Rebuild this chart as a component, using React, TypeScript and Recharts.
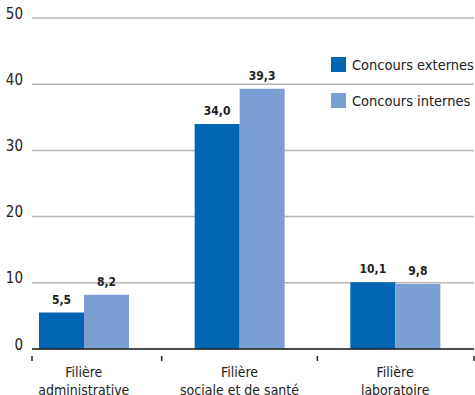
import { Bar, BarChart, CartesianGrid, LabelList, Legend, XAxis, YAxis } from 'recharts';

const categories = ['Filière\nadministrative', 'Filière\nsociale et de santé', 'Filière\nlaboratoire'];
const externes = [5.5, 34.0, 10.1];
const internes = [8.2, 39.3, 9.8];
const yTicks = [0, 10, 20, 30, 40, 50];

const data = categories.map((name, i) => ({
    name,
    externes: externes[i],
    internes: internes[i]
}));

const FONT = "'DejaVu Sans Condensed', 'DejaVu Sans', sans-serif";
const STRETCH = 'condensed';
const DARK = '#0066b3';
const LIGHT = '#7c9fd3';
const INK = '#222';
const PLOT_LEFT = 32;
const PLOT_RIGHT = 474;

const fmt = (v: any) => Number(v).toFixed(1).replace('.', ',');

const YTick = (props: any) => {
    const { x, y, payload } = props;
    return (
        <text x={x} y={y} dy={-4} textAnchor="end" dominantBaseline="middle"
            fontFamily={FONT} fontSize={15} fill={INK} style={{ fontStretch: STRETCH }}>
            {payload.value}
        </text>
    );
};

const XTick = (props: any) => {
    const { x, y, payload, index, visibleTicksCount } = props;
    const lines = String(payload.value).split('\n');
    const half = payload.offset || 0;
    const marks: number[] = [];
    if (index === 0) marks.push(PLOT_LEFT);
    if (index < visibleTicksCount - 1) marks.push(x + half);
    else marks.push(PLOT_RIGHT);
    return (
        <g>
            {marks.map((mx, k) => (
                <line key={k} x1={mx} x2={mx} y1={y - 1} y2={y + 4} stroke={INK} strokeWidth={1.5} />
            ))}
            <text x={x} y={y + 20} textAnchor="middle" fontFamily={FONT} fontSize={14} fill={INK}
                style={{ fontStretch: STRETCH }}>
                {lines.map((l, k) => (
                    <tspan key={k} x={x} dy={k === 0 ? 0 : 17.6}>{l}</tspan>
                ))}
            </text>
        </g>
    );
};

const renderLegend = (props: any) => {
    const { payload } = props;
    return (
        <div style={{ fontFamily: FONT, fontStretch: STRETCH, fontSize: 14.5, color: INK, whiteSpace: 'nowrap' }}>
            {payload.map((entry: any) => (
                <div key={entry.value} style={{ display: 'flex', alignItems: 'center', height: 15, marginBottom: 21 }}>
                    <span style={{ width: 15, height: 15, flexShrink: 0, background: entry.color, display: 'inline-block', marginRight: 6 }} />
                    <span>{entry.value}</span>
                </div>
            ))}
        </div>
    );
};

export default function App() {
    return (
        <div style={{ position: 'absolute', top: 0, left: 0, background: '#fff' }}>
            <BarChart width={475} height={395} data={data}
                margin={{ top: 18, right: 1, bottom: 0, left: 0 }}
                barGap={0}>
                <CartesianGrid vertical={false} stroke="#b5b5b5" strokeWidth={1.5} />
                <XAxis dataKey="name" type="category" height={46}
                    padding={{ left: -26, right: 1 }}
                    axisLine={{ stroke: INK, strokeWidth: 1.5 }}
                    tickLine={false}
                    interval={0}
                    tick={<XTick />} />
                <YAxis width={PLOT_LEFT} domain={[0, 50]} ticks={yTicks}
                    axisLine={false} tickLine={false} tickSize={0} tickMargin={9}
                    tick={<YTick />} />
                <Legend content={renderLegend} layout="vertical" align="center" verticalAlign="middle"
                    wrapperStyle={{ top: 57, left: 331, width: 144 }} />
                <Bar dataKey="externes" name="Concours externes" fill={DARK} barSize={45} isAnimationActive={false}>
                    <LabelList dataKey="externes" position="top" offset={9} formatter={fmt}
                        style={{ fontFamily: FONT, fontStretch: STRETCH, fontSize: 12, fontWeight: 'bold', fill: INK }} />
                </Bar>
                <Bar dataKey="internes" name="Concours internes" fill={LIGHT} barSize={45} isAnimationActive={false}>
                    <LabelList dataKey="internes" position="top" offset={9} formatter={fmt}
                        style={{ fontFamily: FONT, fontStretch: STRETCH, fontSize: 12, fontWeight: 'bold', fill: INK }} />
                </Bar>
            </BarChart>
        </div>
    );
}
